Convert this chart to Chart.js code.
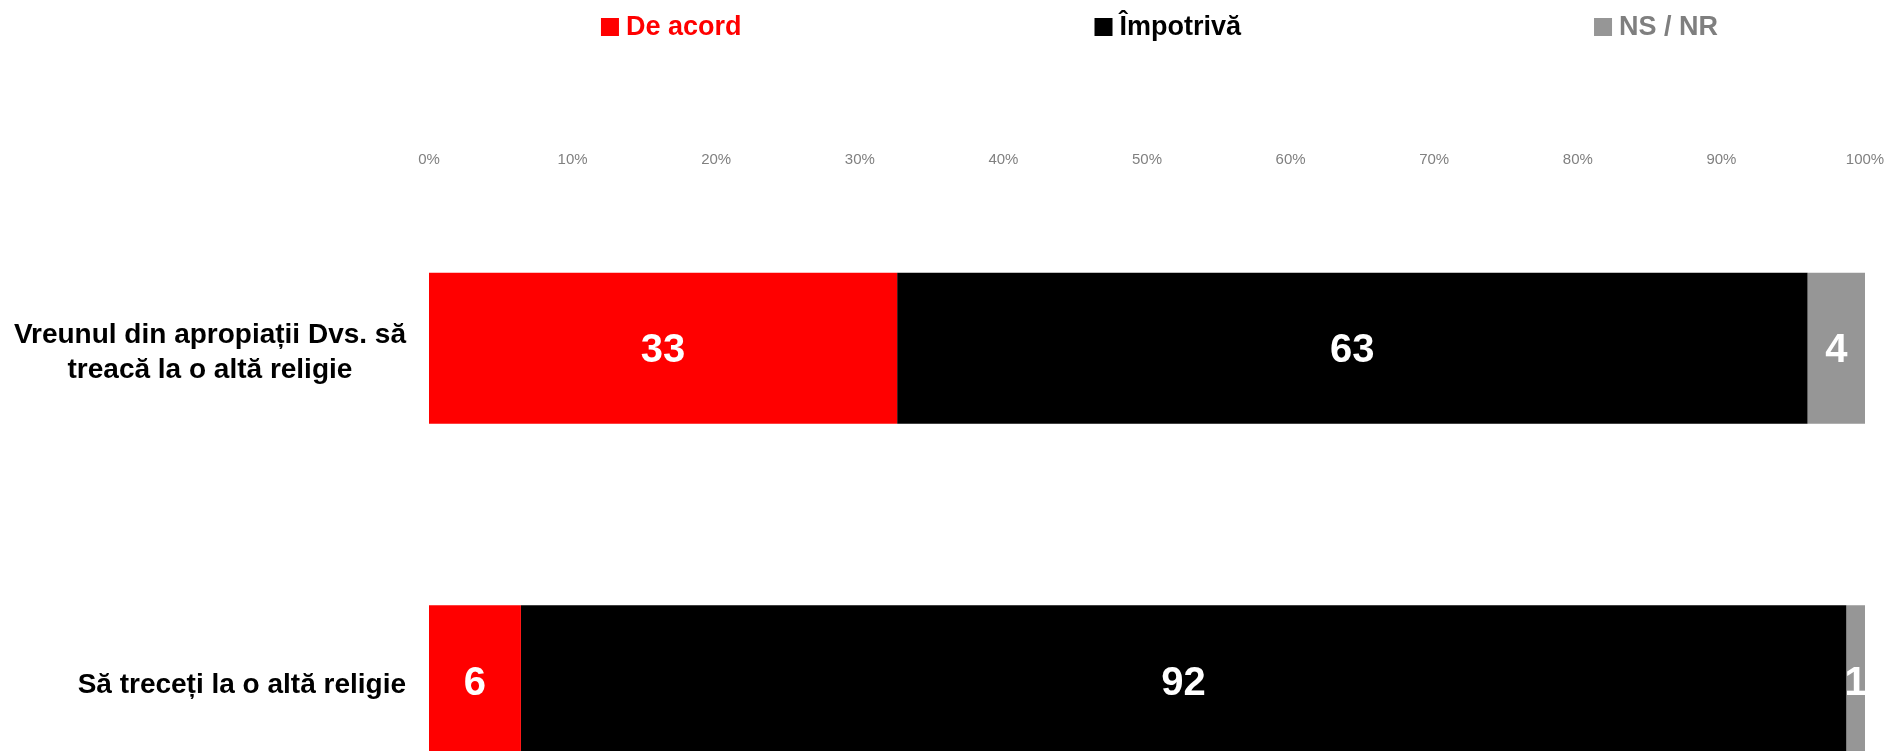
<!DOCTYPE html>
<html>
<head>
<meta charset="utf-8">
<script src="https://cdn.jsdelivr.net/npm/chart.js@4/dist/chart.umd.min.js"></script>
<style>
  html, body { margin: 0; padding: 0; background: #ffffff; overflow: hidden; }
  #wrap { position: relative; width: 1890px; height: 850px; }
</style>
</head>
<body>
<div id="wrap"><canvas id="c"></canvas></div>
<script>
const categories = [["Vreunul din apropiații Dvs. să", "treacă la o altă religie"], "Să treceți la o altă religie"];
const seriesNames = ["De acord", "Împotrivă", "NS / NR"];
const deAcord = [32.6, 6.4];
const impotriva = [63.4, 92.3];
const nsNr = [4.0, 1.3];
const tickValues = [0, 10, 20, 30, 40, 50, 60, 70, 80, 90, 100];

const colors = ["#ff0000", "#000000", "#969696"];
const legendTextColors = ["#ff0000", "#000000", "#7f7f7f"];
const FONT = '"Liberation Sans", Arial, sans-serif';

const customPlugin = {
  id: 'custom',
  afterDatasetsDraw(chart) {
    const ctx = chart.ctx;
    // data labels
    chart.data.datasets.forEach((ds, di) => {
      const meta = chart.getDatasetMeta(di);
      meta.data.forEach((bar, i) => {
        const p = bar.getProps(['x', 'base', 'y'], true);
        const cx = (p.x + p.base) / 2;
        ctx.save();
        ctx.fillStyle = '#ffffff';
        ctx.font = 'bold 40px ' + FONT;
        ctx.textAlign = 'center';
        ctx.textBaseline = 'middle';
        ctx.fillText(String(Math.round(ds.data[i])), cx, p.y + 3);
        ctx.restore();
      });
    });
    // category labels
    const ys = chart.scales.y;
    ctx.save();
    ctx.font = 'bold 28px ' + FONT;
    ctx.fillStyle = '#000000';
    ctx.textAlign = 'center';
    ctx.textBaseline = 'middle';
    const right = chart.chartArea.left - 23;
    const lh = 35;
    chart.data.labels.forEach((lab, i) => {
      const lines = Array.isArray(lab) ? lab : [lab];
      const w = Math.max(...lines.map(l => ctx.measureText(l).width));
      const cx = right - w / 2;
      const yc = ys.getPixelForValue(i);
      lines.forEach((l, k) => ctx.fillText(l, cx, yc + (k - (lines.length - 1) / 2) * lh + 5));
    });
    ctx.restore();
    // legend
    ctx.save();
    ctx.font = 'bold 27px ' + FONT;
    ctx.textBaseline = 'middle';
    ctx.textAlign = 'left';
    const box = 18, gapBT = 7, gapItems = 353;
    const widths = chart.data.datasets.map(ds => box + gapBT + ctx.measureText(ds.label).width);
    const total = widths.reduce((a, b) => a + b, 0) + gapItems * (widths.length - 1);
    let x = (chart.chartArea.left + chart.width) / 2 - total / 2;
    const ly = 27;
    chart.data.datasets.forEach((ds, di) => {
      ctx.fillStyle = colors[di];
      ctx.fillRect(x, ly - box / 2, box, box);
      ctx.fillStyle = legendTextColors[di];
      ctx.fillText(ds.label, x + box + gapBT, ly + 1);
      x += widths[di] + gapItems;
    });
    ctx.restore();
  }
};

new Chart(document.getElementById('c'), {
  type: 'bar',
  data: {
    labels: categories,
    datasets: [
      { label: seriesNames[0], data: deAcord, backgroundColor: colors[0] },
      { label: seriesNames[1], data: impotriva, backgroundColor: colors[1] },
      { label: seriesNames[2], data: nsNr, backgroundColor: colors[2] }
    ]
  },
  options: {
    indexAxis: 'y',
    responsive: true,
    maintainAspectRatio: false,
    animation: false,
    layout: { padding: { left: 429, right: 25, top: 0, bottom: 3 } },
    datasets: { bar: { barPercentage: 0.454, categoryPercentage: 1.0, borderWidth: 0 } },
    plugins: { legend: { display: false }, tooltip: { enabled: false } },
    scales: {
      x: {
        position: 'top',
        stacked: true,
        min: 0,
        max: 100,
        afterBuildTicks: (scale) => { scale.ticks = tickValues.map(v => ({ value: v })); },
        afterFit: (scale) => { scale.height = 182; scale.paddingLeft = 0; scale.paddingRight = 0; },
        grid: { display: false, drawTicks: false },
        border: { display: false },
        ticks: {
          padding: 13,
          color: '#808080',
          font: { family: FONT, size: 15 },
          maxRotation: 0,
          callback: (v) => v + '%'
        }
      },
      y: {
        stacked: true,
        display: false,
        offset: true
      }
    }
  },
  plugins: [customPlugin]
});
</script>
</body>
</html>
